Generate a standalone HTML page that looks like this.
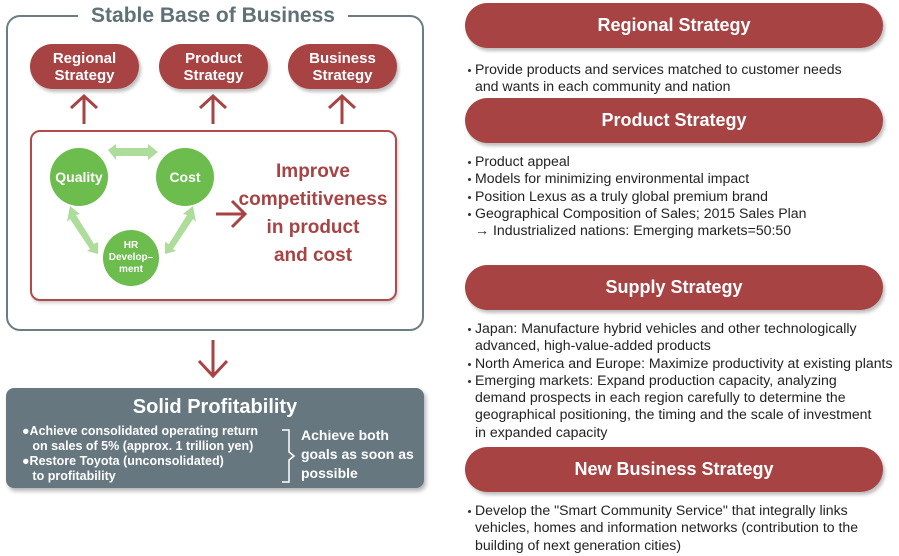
<!DOCTYPE html>
<html><head><meta charset="utf-8"><style>
*{margin:0;padding:0;box-sizing:border-box}
body{width:899px;height:556px;background:#fff;position:relative;overflow:hidden;font-family:"Liberation Sans","DejaVu Sans",sans-serif}
.a{position:absolute}
.pill{position:absolute;background:#a84344;color:#fff;font-weight:bold;text-align:center;border-radius:30px;box-shadow:2px 3px 3px rgba(0,0,0,.25)}
.sp{height:45px;left:465px;width:418px;font-size:18px;line-height:45px}
.t{position:absolute;left:467px;font-size:14.1px;line-height:17.3px;color:#222;white-space:nowrap}
.t div{padding-left:8px;position:relative}
.t div.b:before{content:"";position:absolute;left:1px;top:8px;width:3px;height:3px;background:#333;border-radius:50%}
.c{position:absolute;border-radius:50%;background:#6cbd4d;color:#fff;font-weight:bold;text-align:center;display:flex;align-items:center;justify-content:center}
</style></head><body>
<div class="a" style="left:6px;top:15px;width:418px;height:316px;border:2px solid #6d7c82;border-radius:14px"></div>
<div class="a" style="left:78px;top:2px;width:270px;height:28px;background:#fff;color:#5f7077;font-weight:bold;font-size:21px;text-align:center;line-height:28px">Stable Base of Business</div>
<div class="pill" style="left:30px;top:44px;width:109px;height:45px;font-size:15px;line-height:17px;padding-top:6px">Regional<br>Strategy</div>
<div class="pill" style="left:159px;top:44px;width:109px;height:45px;font-size:15px;line-height:17px;padding-top:6px">Product<br>Strategy</div>
<div class="pill" style="left:288px;top:44px;width:109px;height:45px;font-size:15px;line-height:17px;padding-top:6px">Business<br>Strategy</div>
<div class="a" style="left:30px;top:130px;width:367px;height:171px;border:2px solid #b04a4b;border-radius:10px;box-shadow:1px 2px 3px rgba(0,0,0,.2)"></div>
<svg class="a" style="left:0;top:0" width="440" height="400">
<g stroke="#a84344" stroke-width="3" fill="none">
<path d="M84 124V98M71 108L84 96L97 108"/>
<path d="M213 124V98M200 108L213 96L226 108"/>
<path d="M342 124V98M329 108L342 96L355 108"/>
<path d="M216 214H244M232 201L245 214L232 227"/>
<path d="M213 340V375M199 361L213 376L227 361"/>
</g>
<g fill="#aedc9a">
<path d="M108 150 L116 144 L116 148 L148 148 L148 144 L158 152 L148 160 L148 156 L116 156 L116 160Z"/>
<path d="M70 206 L80 214 L76 215 L94 244 L98 242 L98 254 L87 251 L90 249 L70 219 L67 222Z"/>
<path d="M193 206 L183 214 L187 215 L169 244 L165 242 L165 254 L176 251 L173 249 L193 219 L196 222Z"/>
</g>
</svg>
<div class="c" style="left:50px;top:148px;width:58px;height:58px;font-size:14px">Quality</div>
<div class="c" style="left:156px;top:148px;width:58px;height:58px;font-size:14px">Cost</div>
<div class="c" style="left:103px;top:230px;width:56px;height:56px;font-size:10px;line-height:12px">HR<br>Develop–<br>ment</div>
<div class="a" style="left:230px;top:158px;width:166px;text-align:center;color:#a84344;font-weight:bold;font-size:19px;line-height:28px">Improve<br>competitiveness<br>in product<br>and cost</div>
<div class="a" style="left:6px;top:388px;width:418px;height:100px;background:#667780;border-radius:8px;box-shadow:2px 3px 4px rgba(0,0,0,.3);color:#fff;font-weight:bold">
<div style="position:absolute;left:0;width:418px;top:8px;text-align:center;font-size:20px">Solid Profitability</div>
<div style="position:absolute;left:16px;top:36px;font-size:12.5px;line-height:15px;white-space:nowrap">●Achieve consolidated operating return<br>&nbsp;&nbsp;&nbsp;on sales of 5% (approx. 1 trillion yen)<br>●Restore Toyota (unconsolidated)<br>&nbsp;&nbsp;&nbsp;to profitability</div>
<svg style="position:absolute;left:270px;top:40px" width="20" height="56"><path d="M6 2H13V24L18 28L13 32V54H6" stroke="#fff" stroke-width="1.5" fill="none"/></svg>
<div style="position:absolute;left:295px;top:38px;font-size:14px;line-height:19px">Achieve both<br>goals as soon as<br>possible</div>
</div>
<div class="pill sp" style="top:3px">Regional Strategy</div>
<div class="t" style="top:61px"><div class="b">Provide products and services matched to customer needs</div><div>and wants in each community and nation</div></div>
<div class="pill sp" style="top:98px">Product Strategy</div>
<div class="t" style="top:153px"><div class="b">Product appeal</div><div class="b">Models for minimizing environmental impact</div><div class="b">Position Lexus as a truly global premium brand</div><div class="b">Geographical Composition of Sales; 2015 Sales Plan</div><div>→ Industrialized nations: Emerging markets=50:50</div></div>
<div class="pill sp" style="top:265px">Supply Strategy</div>
<div class="t" style="top:320px"><div class="b">Japan: Manufacture hybrid vehicles and other technologically</div><div>advanced, high-value-added products</div><div class="b">North America and Europe: Maximize productivity at existing plants</div><div class="b">Emerging markets: Expand production capacity, analyzing</div><div>demand prospects in each region carefully to determine the</div><div>geographical positioning, the timing and the scale of investment</div><div>in expanded capacity</div></div>
<div class="pill sp" style="top:447px">New Business Strategy</div>
<div class="t" style="top:502px"><div class="b">Develop the "Smart Community Service" that integrally links</div><div>vehicles, homes and information networks (contribution to the</div><div>building of next generation cities)</div></div>
</body></html>
